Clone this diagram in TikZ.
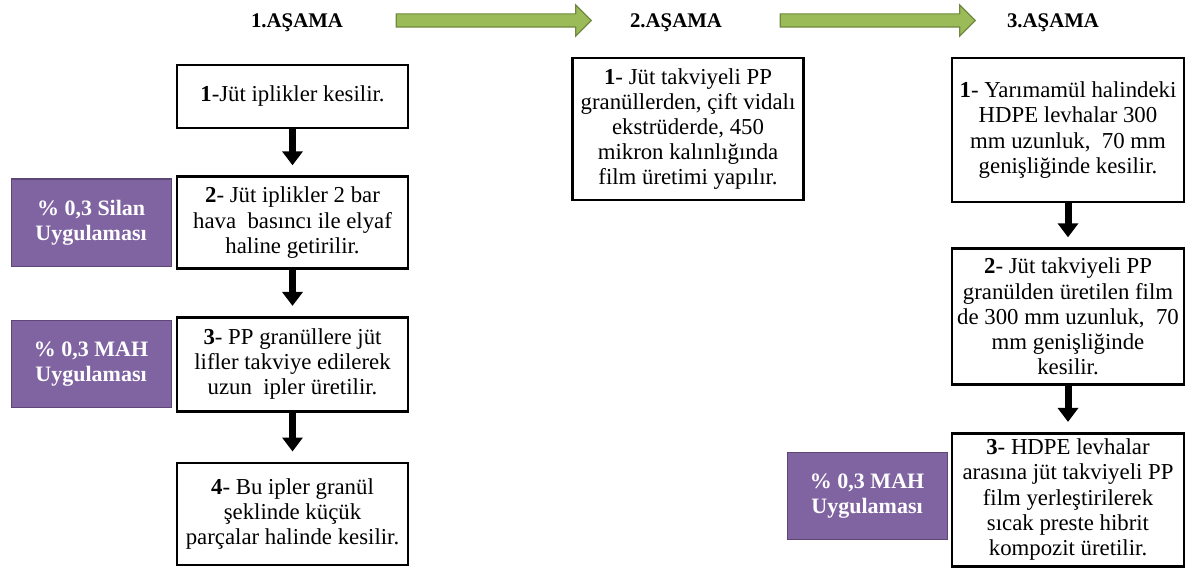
\documentclass[tikz,border=0pt]{standalone}
\usepackage{fontspec}
\setmainfont{Liberation Serif}
\usepackage{tikz}
\usetikzlibrary{
    arrows.meta,
    positioning,
    shapes.arrows
}
\definecolor{stagegreen}{HTML}{9BBB59}
\definecolor{stagegreendark}{HTML}{71893F}
\definecolor{treatpurple}{HTML}{8064A2}
\definecolor{treatpurpledark}{HTML}{5C4776}
\tikzstyle{stagetitle}=[
    font=\fontsize{10.4}{12}\selectfont\bfseries
]
\tikzstyle{stepbox}=[
    rectangle,
    minimum width=115.5pt,
    align=center,
    draw=black,
    fill=white,
    line width=1.3pt,
    inner sep=2pt,
    font=\fontsize{11.4}{12.6}\selectfont
]
\tikzstyle{treatment}=[
    rectangle,
    minimum width=80pt,
    minimum height=43.5pt,
    align=center,
    draw=treatpurpledark,
    fill=treatpurple,
    text=white,
    line width=0.6pt,
    font=\fontsize{11}{12.5}\selectfont\bfseries
]
\tikzstyle{stagearrow}=[
    single arrow,
    draw=stagegreendark,
    fill=stagegreen,
    line width=0.6pt,
    inner sep=3pt,
    minimum height=97.5pt,
    single arrow head extend=4.5pt
]
\tikzstyle{arrow}=[line width=3.5pt,-{Triangle[width=10pt,length=7pt]},shorten >=5pt]

\begin{document}
\begin{tikzpicture}[x=0.5pt,y=-0.5pt,node distance=23pt]
\useasboundingbox (0,0) rectangle (1186,572);
% stage titles
\node[stagetitle] (title1) at (297,23) {1.AŞAMA};
\node[stagetitle] (title2) at (676,23) {2.AŞAMA};
\node[stagetitle] (title3) at (1053,23) {3.AŞAMA};
\node[stagearrow] (stage12) at (490.5,20.5) {};
\node[stagearrow] (stage23) at (874.5,20.5) {};

% stage 1
\node[stepbox,minimum height=31.5pt] (s1a) at (292.5,96.5) {\textbf{1}-Jüt iplikler kesilir.};
\node[stepbox,minimum height=46pt,below=of s1a] (s1b) {\textbf{2}- Jüt iplikler 2 bar\\hava\ \ basıncı ile elyaf\\haline getirilir.};
\node[stepbox,minimum height=47pt,below=of s1b] (s1c) {\textbf{3}- PP granüllere jüt\\lifler takviye edilerek\\uzun\ \ ipler üretilir.};
\node[stepbox,minimum height=51pt,below=24.5pt of s1c] (s1d) {\textbf{4}- Bu ipler granül\\şeklinde küçük\\parçalar halinde kesilir.};
\node[treatment,left=2pt of s1b] (silan) {\% 0,3 Silan\\Uygulaması};
\node[treatment,left=2pt of s1c] (mah1) {\% 0,3 MAH\\Uygulaması};

% stage 2
\node[stepbox,minimum height=71pt] (s2a) at (688,129) {\textbf{1}- Jüt takviyeli PP\\granüllerden, çift vidalı\\ekstrüderde, 450\\mikron kalınlığında\\film üretimi yapılır.};

% stage 3
\node[stepbox,minimum width=116pt,minimum height=72pt] (s3a) at (1068,130) {\textbf{1}- Yarımamül halindeki\\HDPE levhalar 300\\mm uzunluk,\ \ 70 mm\\genişliğinde kesilir.};
\node[stepbox,minimum width=116pt,minimum height=68pt,below=22pt of s3a] (s3b) {\textbf{2}- Jüt takviyeli PP\\granülden üretilen film\\de 300 mm uzunluk,\ \ 70\\mm genişliğinde\\kesilir.};
\node[stepbox,minimum width=116pt,minimum height=66.5pt,below=23pt of s3b] (s3c) {\textbf{3}- HDPE levhalar\\arasına jüt takviyeli PP\\film yerleştirilerek\\sıcak preste hibrit\\kompozit üretilir.};
\node[treatment,left=1.5pt of s3c,yshift=2pt] (mah2) {\% 0,3 MAH\\Uygulaması};

\draw[arrow] (s1a) -- (s1b);
\draw[arrow] (s1b) -- (s1c);
\draw[arrow] (s1c) -- (s1d);
\draw[arrow] (s3a) -- (s3b);
\draw[arrow] (s3b) -- (s3c);
\end{tikzpicture}
\end{document}
